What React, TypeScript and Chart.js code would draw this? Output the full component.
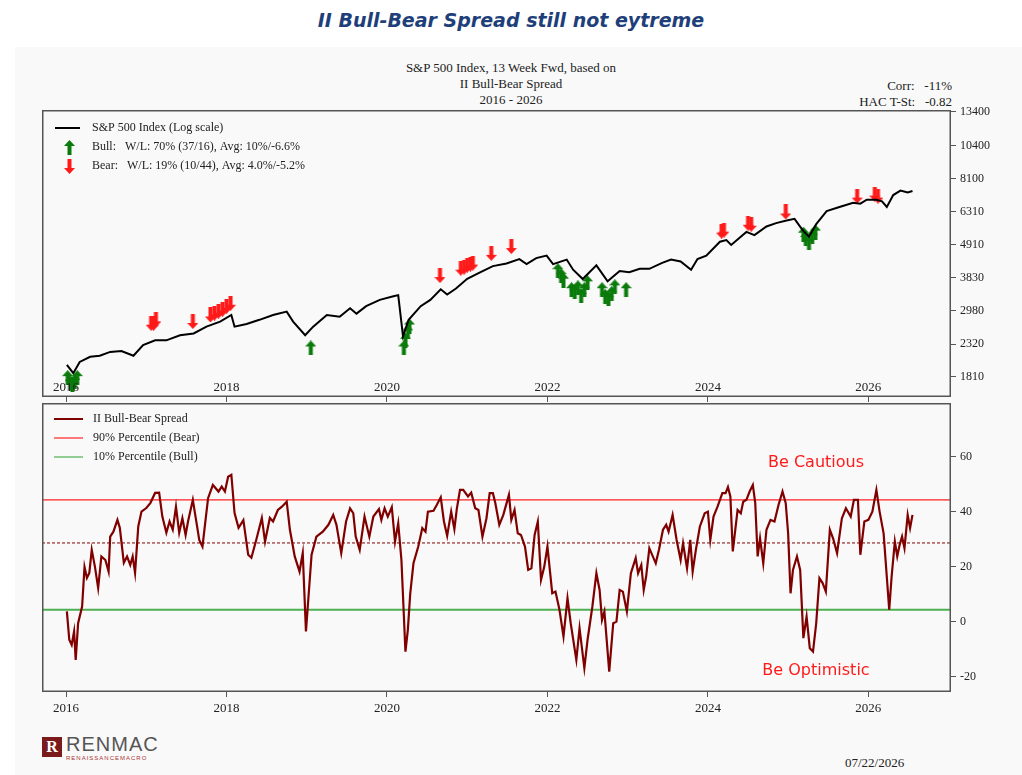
import React, { useEffect, useRef } from "react";
import { Chart, registerables } from "chart.js";
Chart.register(...registerables);

// ---------- data ----------
const spxDates = [2016.01,2016.09,2016.17,2016.30,2016.42,2016.55,2016.69,2016.84,2016.96,2017.11,2017.25,2017.42,2017.59,2017.75,2017.92,2018.06,2018.10,2018.25,2018.41,2018.58,2018.75,2018.83,2018.98,2019.08,2019.25,2019.41,2019.54,2019.62,2019.74,2019.91,2020.08,2020.14,2020.20,2020.27,2020.42,2020.54,2020.67,2020.75,2020.86,2021.0,2021.16,2021.32,2021.49,2021.65,2021.74,2021.86,2021.99,2022.07,2022.24,2022.32,2022.44,2022.61,2022.75,2022.90,2023.02,2023.15,2023.27,2023.43,2023.54,2023.66,2023.79,2023.87,2023.98,2024.15,2024.23,2024.29,2024.48,2024.58,2024.73,2024.85,2024.98,2025.08,2025.18,2025.26,2025.35,2025.48,2025.64,2025.81,2025.90,2025.98,2026.10,2026.17,2026.23,2026.31,2026.40,2026.49,2026.55];
const spxValues = [1982,1861,2027,2107,2123,2186,2200,2123,2301,2386,2386,2480,2513,2646,2749,2890,2646,2700,2786,2890,2964,2749,2480,2646,2890,2853,3040,2919,3089,3239,3329,3358,2459,2787,3089,3239,3508,3373,3530,3798,3987,4180,4262,4407,4244,4440,4525,4244,4392,4070,3793,4206,3730,4028,3995,4097,4097,4285,4392,4330,4070,4408,4525,5025,5088,4905,5415,5285,5642,5785,5898,5975,5491,5224,5740,6338,6537,6747,6700,6907,6907,6823,6537,7152,7396,7290,7372];

const bearDates = [2017.06,2017.09,2017.12,2017.58,2017.80,2017.85,2017.90,2017.95,2018.00,2018.05,2020.66,2020.92,2020.96,2021.00,2021.04,2021.07,2021.30,2021.55,2024.17,2024.20,2024.50,2024.54,2024.97,2025.86,2026.08,2026.12];
const bearValues = [2716,2716,2786,2751,2890,2932,2975,3018,3087,3158,3894,4116,4148,4213,4246,4279,4605,4848,5447,5488,5781,5737,6295,7097,7206,7097];
const bullDates = [2016.02,2016.05,2016.08,2016.11,2016.14,2019.05,2020.21,2020.23,2020.26,2020.28,2022.13,2022.17,2022.20,2022.30,2022.34,2022.38,2022.42,2022.46,2022.50,2022.68,2022.72,2022.76,2022.80,2022.84,2022.98,2025.19,2025.22,2025.26,2025.30,2025.34];
const bullValues = [1800,1735,1704,1750,1800,2252,2252,2387,2542,2658,4038,3889,3760,3497,3447,3547,3350,3497,3685,3497,3322,3272,3397,3575,3497,5320,5151,4990,5238,5406];

const spreadDates = [2016.01,2016.04,2016.07,2016.10,2016.12,2016.15,2016.20,2016.23,2016.26,2016.29,2016.32,2016.36,2016.40,2016.44,2016.49,2016.53,2016.55,2016.59,2016.64,2016.67,2016.72,2016.76,2016.80,2016.83,2016.86,2016.90,2016.94,2017.00,2017.05,2017.11,2017.16,2017.20,2017.25,2017.29,2017.33,2017.37,2017.41,2017.45,2017.49,2017.52,2017.58,2017.62,2017.66,2017.70,2017.77,2017.83,2017.90,2017.94,2017.98,2018.02,2018.06,2018.10,2018.15,2018.21,2018.27,2018.31,2018.37,2018.44,2018.48,2018.54,2018.58,2018.64,2018.69,2018.75,2018.79,2018.85,2018.91,2018.95,2018.99,2019.06,2019.12,2019.20,2019.27,2019.33,2019.37,2019.43,2019.49,2019.54,2019.58,2019.61,2019.66,2019.72,2019.78,2019.83,2019.90,2019.93,2019.97,2020.01,2020.06,2020.10,2020.14,2020.18,2020.23,2020.26,2020.29,2020.33,2020.39,2020.44,2020.48,2020.51,2020.58,2020.62,2020.67,2020.71,2020.75,2020.80,2020.84,2020.87,2020.91,2020.95,2021.01,2021.05,2021.10,2021.14,2021.19,2021.24,2021.28,2021.32,2021.35,2021.40,2021.45,2021.52,2021.55,2021.59,2021.63,2021.67,2021.72,2021.76,2021.80,2021.84,2021.88,2021.92,2021.96,2022.00,2022.06,2022.10,2022.15,2022.20,2022.25,2022.29,2022.36,2022.40,2022.46,2022.50,2022.56,2022.61,2022.65,2022.68,2022.71,2022.77,2022.82,2022.86,2022.90,2022.94,2022.99,2023.04,2023.10,2023.13,2023.17,2023.20,2023.23,2023.27,2023.35,2023.39,2023.44,2023.48,2023.51,2023.56,2023.61,2023.66,2023.69,2023.74,2023.78,2023.81,2023.85,2023.90,2023.96,2024.00,2024.03,2024.07,2024.12,2024.18,2024.22,2024.25,2024.28,2024.31,2024.37,2024.41,2024.44,2024.48,2024.52,2024.56,2024.59,2024.62,2024.65,2024.69,2024.73,2024.78,2024.83,2024.88,2024.93,2024.97,2025.00,2025.03,2025.06,2025.11,2025.15,2025.19,2025.23,2025.27,2025.31,2025.35,2025.39,2025.43,2025.47,2025.52,2025.56,2025.61,2025.67,2025.72,2025.78,2025.82,2025.87,2025.90,2025.95,2026.00,2026.05,2026.10,2026.14,2026.19,2026.26,2026.29,2026.33,2026.36,2026.39,2026.42,2026.45,2026.49,2026.52,2026.55];
const spreadValues = [3.8,-6.5,-8.4,-3.5,-13.8,-0.5,5.6,20,16,17.8,26.2,20,12.3,23.8,22.5,18.3,31,32.8,37.1,34.2,21.5,23.8,20.7,23.8,17.8,34.7,40.1,41.4,43.2,46.9,47,38.3,32.4,36.5,33.5,41.9,32.4,37.7,31.6,36.5,44.4,37.1,29.8,27.4,45,49.8,47.4,49.2,47.4,52.8,53.5,39.6,34.2,37,24.4,23.3,29.8,37.8,29.2,37.8,36.5,40.7,41.9,43.7,33.5,23.8,18.3,25,-3.5,24.4,31,32.8,35.3,38.9,35.3,25,36.5,41.3,39.5,31,26.2,38.3,31,38.3,41,37.1,41.3,38.3,41.7,29.2,35.9,22.5,-10.8,-2.9,10.4,21.3,27.4,34.1,32.8,40.1,40.4,42.5,45.3,36.5,31.3,40.1,33.7,41,48,48,45.6,47,41.3,40.7,31,37.7,46.8,46.8,43.2,35.3,38.9,46.2,37.1,40.7,32.2,31.6,27.4,18.9,19.5,31.6,36.5,15.3,20,27.4,10.4,11,4.4,-5.3,8.6,-0.5,-13.8,-2.3,-16.8,-6.5,5.6,17.7,11.6,0.7,3.8,-18.1,-0.5,0.1,11.6,11,3.8,17.7,23.2,17.7,20.7,11.6,16.5,26.8,21.3,26.2,33.5,35.3,32.8,38.9,29.8,22.5,28.6,19.5,29.8,18.3,26.2,34.7,39.5,40.1,29.8,38.3,41.9,46.8,46.8,49,45.6,25.6,40.7,39.5,43.7,44.4,47.4,49.8,43.2,23.8,30.4,21.3,33.5,37.1,36.5,42.5,47.4,43.2,32.2,10.4,18.9,23.8,18.9,-5.9,1.9,-9.6,-10.8,-0.5,15.9,14.1,11,33.5,30.4,25,37.7,41.3,38.3,44.4,44.4,24.4,36.5,37.1,40.1,48,40.1,32.2,4.4,16.5,29.2,23.8,28,31,26.8,38.9,34.1,38.9];

const bearLevel = 44.4;
const bullLevel = 4.4;
const meanLevel = 28.7;
const yearTicks = [2016, 2018, 2020, 2022, 2024, 2026];
const spxTicks = [1810, 2320, 2980, 3830, 4910, 6310, 8100, 10400, 13400];
const spreadTicks = [-20, 0, 20, 40, 60];

// ---------- helpers ----------
const SERIF = "'Liberation Serif', 'DejaVu Serif', serif";
const XMIN = 2015.7, XMAX = 2027.03;
const AXW = 61;
const TOPPAD = 10;

function makeArrow(color: string, up: boolean) {
  const c = document.createElement("canvas");
  c.width = 11; c.height = 15;
  const g = c.getContext("2d")!;
  g.fillStyle = color;
  g.beginPath();
  if (up) {
    g.moveTo(5.5, 0); g.lineTo(11, 6); g.lineTo(7.5, 6); g.lineTo(7.5, 15);
    g.lineTo(3.5, 15); g.lineTo(3.5, 6); g.lineTo(0, 6);
  } else {
    g.moveTo(5.5, 15); g.lineTo(11, 9); g.lineTo(7.5, 9); g.lineTo(7.5, 0);
    g.lineTo(3.5, 0); g.lineTo(3.5, 9); g.lineTo(0, 9);
  }
  g.closePath(); g.fill();
  return c;
}

const pts = (xs: number[], ys: number[]) => xs.map((x, i) => ({ x, y: ys[i] }));

// force the plot area to fill the canvas minus the right axis
const fixArea = {
  id: "fixArea",
  afterLayout(chart: any) {
    const a = chart.chartArea;
    const w = chart.width - AXW;
    const bottom = chart.options.plugins.fixArea.bottom;
    const top = TOPPAD;
    a.left = 0; a.right = w; a.top = top; a.bottom = chart.height - bottom;
    a.width = a.right - a.left; a.height = a.bottom - a.top;
    const { x, y } = chart.scales;
    x.left = 0; x.right = w; x.width = w;
    x.top = a.bottom; x.bottom = chart.height; x.height = bottom;
    y.left = w; y.right = chart.width; y.width = AXW;
    y.top = top; y.bottom = a.bottom; y.height = a.bottom - top;
    x.configure(); y.configure();
  },
};

const frame = {
  id: "frame",
  afterDraw(chart: any) {
    const { ctx, chartArea: a } = chart;
    ctx.save();
    ctx.strokeStyle = "#555"; ctx.lineWidth = 1.5;
    ctx.strokeRect(a.left + 0.75, a.top + 0.75, a.right - a.left - 1.5, a.bottom - a.top - 1.5);
    ctx.restore();
  },
};

export default function App() {
  const topRef = useRef<HTMLCanvasElement>(null);
  const botRef = useRef<HTMLCanvasElement>(null);

  useEffect(() => {
    const upG = makeArrow("#0a7a0a", true);
    const downR = makeArrow("#ff1a1a", false);

    const topLegend = {
      id: "topLegend",
      afterDraw(chart: any) {
        const { ctx, chartArea: a, scales } = chart;
        ctx.save();
        ctx.font = `12px ${SERIF}`;
        ctx.fillStyle = "#222";
        ctx.textBaseline = "middle";
        const L = a.left, T = a.top;
        ctx.strokeStyle = "#000"; ctx.lineWidth = 2;
        ctx.beginPath(); ctx.moveTo(L + 13, T + 18); ctx.lineTo(L + 38, T + 18); ctx.stroke();
        ctx.fillText("S&P 500 Index (Log scale)", L + 50, T + 18);
        ctx.drawImage(upG, L + 22, T + 30);
        ctx.fillText("Bull:   W/L: 70% (37/16), Avg: 10%/-6.6%", L + 50, T + 37);
        ctx.drawImage(downR, L + 22, T + 49);
        ctx.fillText("Bear:   W/L: 19% (10/44), Avg: 4.0%/-5.2%", L + 50, T + 56);
        ctx.font = `13px ${SERIF}`;
        ctx.textAlign = "center";
        yearTicks.forEach((y) => {
          const px = scales.x.getPixelForValue(y);
          ctx.fillText(String(y), px, a.bottom - 9);
        });
        ctx.restore();
      },
    };

    const botLegend = {
      id: "botLegend",
      afterDraw(chart: any) {
        const { ctx, chartArea: a } = chart;
        ctx.save();
        ctx.font = `12px ${SERIF}`;
        ctx.fillStyle = "#222";
        ctx.textBaseline = "middle";
        const L = a.left, T = a.top;
        const rows: [string, string, number][] = [
          ["#800000", "II Bull-Bear Spread", 2],
          ["#ff2020", "90% Percentile (Bear)", 1.2],
          ["#4caf50", "10% Percentile (Bull)", 1.2],
        ];
        rows.forEach(([c, t, w], i) => {
          const y = T + 16 + i * 19;
          ctx.strokeStyle = c; ctx.lineWidth = w;
          ctx.beginPath(); ctx.moveTo(L + 12, y); ctx.lineTo(L + 41, y); ctx.stroke();
          ctx.fillText(t, L + 51, y);
        });
        ctx.font = "16px 'Comic Sans MS', 'DejaVu Sans', sans-serif";
        ctx.fillStyle = "#ff1a1a";
        ctx.textAlign = "center";
        ctx.fillText("Be Cautious", 774, T + 60);
        ctx.fillText("Be Optimistic", 774, T + 268);
        ctx.restore();
      },
    };

    const xScale = (showLabels: boolean) => ({
      type: "linear" as const,
      min: XMIN,
      max: XMAX,
      display: true,
      afterBuildTicks: (s: any) => { s.ticks = yearTicks.map((v) => ({ value: v })); },
      grid: { drawOnChartArea: false, tickLength: 5, color: "#555" },
      border: { display: false },
      ticks: { display: showLabels, font: { family: SERIF, size: 13 }, color: "#222", callback: (v: any) => String(v), maxRotation: 0, padding: 4 },
    });

    const common = (bottom: number) => ({
      animation: false as const,
      responsive: false,
      maintainAspectRatio: false,
      layout: { padding: 0 },
      plugins: { legend: { display: false }, tooltip: { enabled: false }, fixArea: { bottom } } as any,
    });

    const topChart = new Chart(topRef.current!, {
      type: "scatter",
      data: {
        datasets: [
          { type: "line", data: pts(spxDates, spxValues), borderColor: "#000", borderWidth: 2, pointRadius: 0, tension: 0 },
          { data: pts(bearDates, bearValues), pointStyle: downR as any, pointRadius: 6 },
          { data: pts(bullDates, bullValues), pointStyle: upG as any, pointRadius: 6 },
        ] as any,
      },
      options: {
        ...common(6),
        scales: {
          x: xScale(false) as any,
          y: {
            type: "logarithmic",
            position: "right",
            min: 1555,
            max: 13600,
            afterBuildTicks: (s: any) => { s.ticks = spxTicks.map((v) => ({ value: v })); },
            grid: { drawOnChartArea: false, tickLength: 5, color: "#555" },
            border: { display: false },
            ticks: { font: { family: SERIF, size: 12 }, color: "#222", callback: (v: any) => String(v), padding: 4 },
          } as any,
        },
      },
      plugins: [fixArea, frame, topLegend],
    });

    const botChart = new Chart(botRef.current!, {
      type: "line",
      data: {
        datasets: [
          { data: pts(spreadDates, spreadValues), borderColor: "#800000", borderWidth: 2.2, pointRadius: 0, tension: 0 },
          { data: pts([XMIN, XMAX], [bearLevel, bearLevel]), borderColor: "#ff2020", borderWidth: 1.3, pointRadius: 0 },
          { data: pts([XMIN, XMAX], [bullLevel, bullLevel]), borderColor: "#4caf50", borderWidth: 2, pointRadius: 0 },
          { data: pts([XMIN, XMAX], [meanLevel, meanLevel]), borderColor: "#800000", borderWidth: 1, borderDash: [3, 2], pointRadius: 0 },
        ] as any,
      },
      options: {
        ...common(30),
        scales: {
          x: xScale(true) as any,
          y: {
            type: "linear",
            position: "right",
            min: -25.5,
            max: 79.6,
            afterBuildTicks: (s: any) => { s.ticks = spreadTicks.map((v) => ({ value: v })); },
            grid: { drawOnChartArea: false, tickLength: 5, color: "#555" },
            border: { display: false },
            ticks: { font: { family: SERIF, size: 12 }, color: "#222", padding: 4 },
          } as any,
        },
      },
      plugins: [fixArea, frame, botLegend],
    });

    return () => { topChart.destroy(); botChart.destroy(); };
  }, []);

  const serif: React.CSSProperties = { position: "absolute", fontFamily: SERIF, fontSize: 13, color: "#222", whiteSpace: "nowrap" };
  return (
    <div style={{ position: "fixed", left: 0, top: 0, width: 1022, height: 775, background: "#fff", overflow: "hidden" }}>
      <div style={{ position: "absolute", left: 0, width: 1022, top: 9, textAlign: "center", fontFamily: "'Comic Sans MS', 'DejaVu Sans', sans-serif", fontStyle: "italic", fontWeight: "bold", fontSize: 19, color: "#1f3f7a" }}>
        II Bull-Bear Spread still not eytreme
      </div>
      <div style={{ position: "absolute", left: 15, top: 47, width: 1007, height: 728, background: "#f9f9f9" }} />
      <div style={{ ...serif, left: 0, width: 1022, top: 60, textAlign: "center", lineHeight: "16px" }}>
        S&amp;P 500 Index, 13 Week Fwd, based on<br />II Bull-Bear Spread<br />2016 - 2026
      </div>
      <div style={{ ...serif, right: 70, top: 78, textAlign: "right", lineHeight: "16px" }}>
        Corr:&nbsp;&nbsp;&nbsp;-11%<br />HAC T-St:&nbsp;&nbsp;&nbsp;-0.82
      </div>
      <canvas ref={topRef} width={909 + AXW} height={287 + 6 + TOPPAD} style={{ position: "absolute", left: 42, top: 110 - TOPPAD }} />
      <canvas ref={botRef} width={909 + AXW} height={289 + 30 + TOPPAD} style={{ position: "absolute", left: 42, top: 403 - TOPPAD }} />
      <div style={{ position: "absolute", left: 42, top: 737, width: 20, height: 20, background: "#7a1a1a", color: "#fff", fontFamily: SERIF, fontSize: 16, fontWeight: "bold", textAlign: "center", lineHeight: "20px" }}>R</div>
      <div style={{ position: "absolute", left: 66, top: 733, fontFamily: "'Liberation Sans', sans-serif", fontSize: 20, color: "#555", letterSpacing: 1 }}>RENMAC</div>
      <div style={{ position: "absolute", left: 66, top: 755, fontFamily: "'Liberation Sans', sans-serif", fontSize: 6, color: "#a33", letterSpacing: 1 }}>RENAISSANCEMACRO</div>
      <div style={{ ...serif, left: 845, top: 755 }}>07/22/2026</div>
    </div>
  );
}
